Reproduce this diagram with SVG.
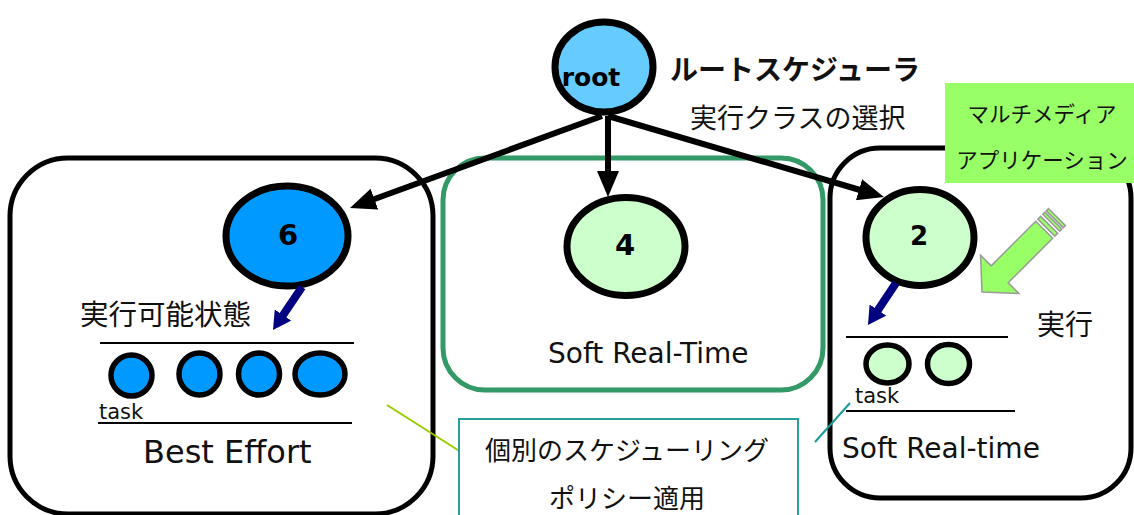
<svg xmlns="http://www.w3.org/2000/svg" width="1134" height="515" viewBox="0 0 1134 515">
  <style>
    .jp { font-family: "Noto Sans CJK JP", "Noto Sans", sans-serif; fill: #111; }
    .lat { font-family: "DejaVu Sans", Verdana, sans-serif; fill: #111; }
    .num { font-family: "DejaVu Sans", Verdana, sans-serif; font-weight: bold; fill: #000; text-anchor: middle; }
    .box { fill: none; stroke: #000; stroke-width: 5; }
    .node { stroke: #000; stroke-width: 7; }
    .task { stroke: #000; stroke-width: 5.5; }
    .blue { fill: #0099ff; }
    .pale { fill: #ccffcc; }
    .rule { stroke: #000; stroke-width: 2; }
    .edge { stroke: #000; stroke-width: 6; fill: none; }
    .push { stroke: #000080; stroke-width: 8; fill: none; }
  </style>
  <defs>
    <marker id="head" viewBox="0 0 26 22" refX="10" refY="11" markerWidth="26" markerHeight="22" markerUnits="userSpaceOnUse" orient="auto">
      <path d="M0,0 L26,11 L0,22 z" fill="#000"/>
    </marker>
    <marker id="navyHead" viewBox="0 0 18 20" refX="8" refY="10" markerWidth="18" markerHeight="20" markerUnits="userSpaceOnUse" orient="auto">
      <path d="M0,0 L18,10 L0,20 z" fill="#000080"/>
    </marker>
  </defs>

  <rect width="1134" height="515" fill="#fff"/>

  <!-- class boxes -->
  <g id="best-effort-box">
    <rect class="box" x="10" y="158" width="423" height="356" rx="58"/>
    <text class="jp" x="80" y="325" font-size="28.5">実行可能状態</text>
    <line class="rule" x1="100" y1="343" x2="354" y2="343"/>
    <line class="rule" x1="98" y1="423" x2="352" y2="423"/>
    <text class="lat" x="99" y="419" font-size="21">task</text>
    <text class="lat" x="143" y="463" font-size="32">Best Effort</text>
  </g>

  <g id="soft-rt-box">
    <rect x="443" y="158" width="380" height="232" rx="42" fill="none" stroke="#339966" stroke-width="5"/>
    <text class="lat" x="548" y="363" font-size="28">Soft Real-Time</text>
  </g>

  <g id="multimedia-box">
    <rect class="box" x="830" y="148" width="301" height="350" rx="50"/>
    <line class="rule" x1="846" y1="337" x2="1008" y2="337"/>
    <line class="rule" x1="846" y1="411" x2="1015" y2="411"/>
    <text class="lat" x="855" y="403" font-size="21">task</text>
    <text class="lat" x="842" y="458" font-size="28">Soft Real-time</text>
    <text class="jp" x="1037" y="335" font-size="28">実行</text>
  </g>

  <!-- callout -->
  <g id="policy-note">
    <line x1="387" y1="405" x2="461" y2="452" stroke="#99cc00" stroke-width="2"/>
    <line x1="815" y1="442" x2="850" y2="403" stroke="#1a9a9a" stroke-width="2"/>
    <rect x="459" y="419" width="339" height="110" fill="#fff" stroke="#2a9d9d" stroke-width="2"/>
    <text class="jp" x="627" y="460" font-size="26" text-anchor="middle">個別のスケジューリング</text>
    <text class="jp" x="627" y="508" font-size="26" text-anchor="middle">ポリシー適用</text>
  </g>

  <!-- application label -->
  <g id="app-label">
    <rect x="945" y="83" width="190" height="100" fill="#99ff66"/>
    <text class="jp" x="1042" y="122" font-size="21.5" text-anchor="middle">マルチメディア</text>
    <text class="jp" x="1042" y="168" font-size="21.5" text-anchor="middle">アプリケーション</text>
  </g>

  <!-- incoming application arrow -->
  <g id="app-arrow" transform="translate(982,292) rotate(135)" fill="#99ff66" stroke="#999" stroke-width="1.5">
    <path d="M0,0 L-25,-27 L-25,-12 L-88,-12 L-88,12 L-25,12 L-25,27 z"/>
    <rect x="-95" y="-12" width="4" height="24"/>
    <rect x="-101" y="-12" width="3" height="24"/>
    <rect x="-106" y="-12" width="3" height="24"/>
  </g>

  <!-- root scheduler -->
  <g id="root">
    <ellipse class="node" cx="604" cy="67" rx="49" ry="45" fill="#66ccff"/>
    <text class="num" x="591" y="86" font-size="25">root</text>
    <text class="jp" x="670" y="80" font-size="28" font-weight="bold">ルートスケジューラ</text>
    <text class="jp" x="690" y="128" font-size="27">実行クラスの選択</text>
  </g>

  <!-- class nodes -->
  <g id="node-6">
    <ellipse class="node blue" cx="287" cy="236" rx="61" ry="50"/>
    <text class="num" x="288" y="245" font-size="29">6</text>
  </g>
  <g id="node-4">
    <ellipse class="node pale" cx="626" cy="246.5" rx="59" ry="49"/>
    <text class="num" x="625" y="255" font-size="29">4</text>
  </g>
  <g id="node-2">
    <ellipse class="node pale" cx="920" cy="237.5" rx="54" ry="48"/>
    <text class="num" x="919" y="245" font-size="26">2</text>
  </g>

  <!-- runnable tasks -->
  <g id="be-tasks">
    <ellipse class="task blue" cx="131.5" cy="375.5" rx="20.5" ry="20.5"/>
    <ellipse class="task blue" cx="199.5" cy="374" rx="20.5" ry="21"/>
    <ellipse class="task blue" cx="259" cy="374" rx="20.5" ry="21"/>
    <ellipse class="task blue" cx="320" cy="374" rx="25" ry="21"/>
  </g>
  <g id="srt-tasks">
    <ellipse class="task pale" cx="887.5" cy="364" rx="21.5" ry="19"/>
    <ellipse class="task pale" cx="948.5" cy="364" rx="21" ry="19.5"/>
  </g>

  <!-- connectors -->
  <g id="connectors">
    <line class="edge" x1="602" y1="116" x2="365" y2="202.5" marker-end="url(#head)"/>
    <line class="edge" x1="608" y1="116" x2="608" y2="181" marker-end="url(#head)"/>
    <line class="edge" x1="608" y1="116" x2="868.6" y2="192.5" marker-end="url(#head)"/>
    <line class="push" x1="302" y1="287" x2="278.6" y2="321.7" marker-end="url(#navyHead)"/>
    <line class="push" x1="896" y1="283" x2="873.5" y2="316.7" marker-end="url(#navyHead)"/>
  </g>
</svg>
